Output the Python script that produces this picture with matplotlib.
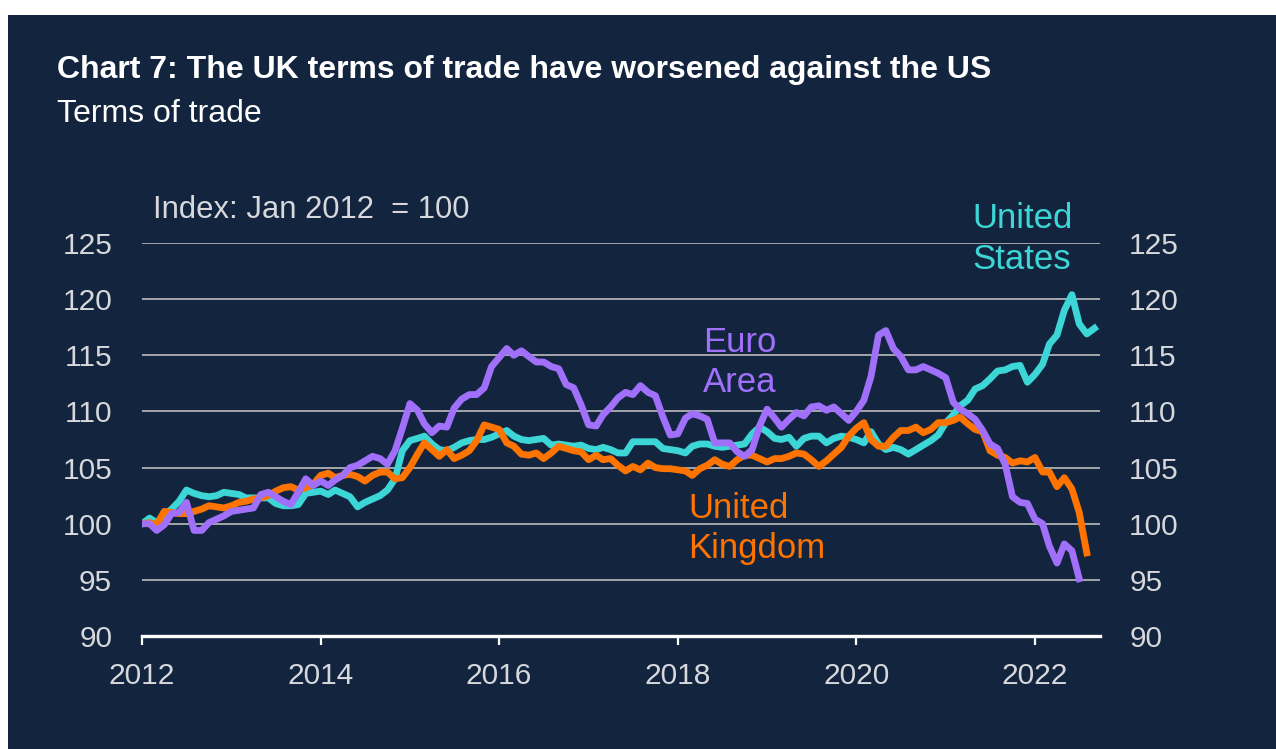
import numpy as np
import pandas as pd
import matplotlib
matplotlib.use("Agg")
import matplotlib.pyplot as plt
import matplotlib.dates as mdates
from matplotlib.patches import Rectangle

plt.rcParams['font.family'] = ['Liberation Sans', 'DejaVu Sans']

# Terms of trade, index Jan 2012 = 100, monthly from Jan 2012
us = [100.0, 100.5, 100.1, 100.8, 101.3, 102.0, 103.0, 102.7, 102.5, 102.4, 102.5, 102.8,
      102.7, 102.6, 102.3, 102.3, 102.3, 102.3, 101.8, 101.6, 101.6, 101.7, 102.7, 102.8,
      102.9, 102.6, 103.0, 102.7, 102.4, 101.5, 101.9, 102.2, 102.5, 103.0, 104.0, 106.5,
      107.4, 107.6, 107.8, 107.1, 106.6, 106.5, 106.8, 107.2, 107.4, 107.5, 107.5, 107.7,
      108.0, 108.3, 107.8, 107.5, 107.4, 107.5, 107.6, 107.0, 107.1, 107.0, 106.9, 107.0,
      106.7, 106.6, 106.8, 106.6, 106.3, 106.3, 107.3, 107.3, 107.3, 107.3, 106.7, 106.6,
      106.5, 106.3, 106.9, 107.1, 107.1, 106.9, 106.8, 106.9, 107.0, 107.1, 108.0, 108.6,
      108.2, 107.6, 107.5, 107.7, 106.9, 107.6, 107.8, 107.8, 107.2, 107.6, 107.8, 107.7,
      107.5, 107.2, 108.2, 107.1, 106.6, 106.8, 106.6, 106.2, 106.6, 107.0, 107.4, 107.9,
      109.0, 109.7, 110.5, 111.0, 112.0, 112.3, 112.9, 113.6, 113.7, 114.0, 114.1, 112.6,
      113.3, 114.2, 116.0, 116.8, 119.0, 120.4, 117.8, 116.9, 117.4]

uk = [100.0, 100.1, 99.9, 101.1, 101.0, 100.9, 100.9, 101.1, 101.3, 101.6, 101.5, 101.4,
      101.6, 101.9, 102.0, 102.2, 102.3, 102.5, 102.9, 103.2, 103.3, 103.0, 103.2, 103.5,
      104.3, 104.5, 104.1, 104.3, 104.4, 104.2, 103.8, 104.3, 104.6, 104.6, 104.0, 104.1,
      105.0, 106.2, 107.2, 106.6, 106.0, 106.6, 105.8, 106.1, 106.5, 107.4, 108.8, 108.6,
      108.4, 107.2, 106.9, 106.2, 106.1, 106.3, 105.8, 106.3, 106.9, 106.7, 106.5, 106.4,
      105.7, 106.1, 105.7, 105.8, 105.2, 104.7, 105.1, 104.8, 105.4, 105.0, 104.9, 104.9,
      104.8, 104.7, 104.3, 104.9, 105.2, 105.7, 105.3, 105.1, 105.7, 106.1, 106.1, 105.8,
      105.5, 105.8, 105.8, 106.0, 106.3, 106.2, 105.7, 105.1, 105.6, 106.2, 106.8, 107.8,
      108.5, 109.0, 107.5, 106.9, 106.9, 107.7, 108.3, 108.3, 108.6, 108.1, 108.4, 109.0,
      109.0, 109.2, 109.5, 108.9, 108.4, 108.2, 106.5, 106.1, 105.9, 105.4, 105.6, 105.5,
      105.9, 104.6, 104.6, 103.3, 104.1, 103.1, 101.0, 97.4]

ea = [100.0, 100.0, 99.4, 99.9, 100.9, 101.0, 101.9, 99.4, 99.4, 100.1, 100.4, 100.7,
      101.1, 101.2, 101.3, 101.4, 102.6, 102.8, 102.4, 102.0, 101.7, 102.8, 104.0, 103.4,
      103.8, 103.4, 103.9, 104.3, 105.0, 105.2, 105.6, 106.0, 105.8, 105.3, 106.5, 108.5,
      110.7, 110.1, 108.9, 108.1, 108.7, 108.6, 110.3, 111.1, 111.5, 111.5, 112.1, 114.0,
      114.8, 115.6, 115.0, 115.4, 114.9, 114.4, 114.4, 114.0, 113.8, 112.4, 112.1, 110.6,
      108.8, 108.7, 109.7, 110.4, 111.2, 111.7, 111.5, 112.3, 111.7, 111.4, 109.5, 107.9,
      108.0, 109.4, 109.8, 109.6, 109.3, 107.2, 107.2, 107.2, 106.4, 106.0, 106.6, 108.7,
      110.2, 109.4, 108.6, 109.3, 109.9, 109.6, 110.4, 110.5, 110.1, 110.4, 109.8, 109.2,
      110.0, 111.0, 113.1, 116.8, 117.2, 115.6, 114.9, 113.7, 113.7, 114.0, 113.7, 113.4,
      113.0, 110.8, 110.2, 109.8, 109.3, 108.3, 107.1, 106.7, 105.3, 102.4, 101.9, 101.8,
      100.4, 100.0, 98.0, 96.5, 98.2, 97.6, 95.1]

yticks = [90, 95, 100, 105, 110, 115, 120, 125]
xtick_years = [2012, 2014, 2016, 2018, 2020, 2022]

BG = '#13253e'
C_US = '#3dd6d6'
C_UK = '#ff7300'
C_EA = '#a070fb'
TXT = '#d6d8dc'
W, H = 1276, 749

months = pd.date_range('2012-01-01', periods=len(us), freq='MS')

fig = plt.figure(figsize=(W / 100, H / 100), dpi=100, facecolor='white')
fig.patches.append(Rectangle((8 / W, 0), 1 - 8 / W, 1 - 15 / H, transform=fig.transFigure,
                             facecolor=BG, edgecolor='none', zorder=-10))

ax = fig.add_axes([142 / W, 1 - 636 / H, (1100 - 142) / W, (636 - 243) / H])
ax.set_facecolor('none')

ax.plot(months[:len(us)], us, color=C_US, lw=4.9, solid_joinstyle='round', zorder=3)
ax.plot(months[:len(uk)], uk, color=C_UK, lw=4.9, solid_joinstyle='round', zorder=4)
ax.plot(months[:len(ea)], ea, color=C_EA, lw=4.9, solid_joinstyle='round', zorder=5)

ax.set_ylim(90, 125)
ax.set_xlim(pd.Timestamp('2012-01-01'), pd.Timestamp('2022-09-24'))
ax.set_yticks(yticks)
for v in yticks[1:]:
    ax.axhline(v, color='#a3a7ad', lw=1.4, zorder=1)

for s in ['top', 'right', 'left']:
    ax.spines[s].set_visible(False)
ax.spines['bottom'].set_color('white')
ax.spines['bottom'].set_linewidth(2.4)
ax.spines['bottom'].set_zorder(6)

ax.set_xticks([pd.Timestamp(f'{y}-01-01') for y in xtick_years])
ax.xaxis.set_major_formatter(mdates.DateFormatter('%Y'))
ax.tick_params(axis='x', colors='white', length=6.5, width=1.6, pad=12,
               labelsize=21.5, labelcolor=TXT)
ax.tick_params(axis='y', length=0, pad=21.5, labelsize=21.5, labelcolor=TXT)

ax2 = ax.twinx()
ax2.set_ylim(ax.get_ylim())
ax2.set_yticks(yticks)
for s in ['top', 'right', 'left', 'bottom']:
    ax2.spines[s].set_visible(False)
ax2.tick_params(axis='y', length=0, pad=21, labelsize=21.5, labelcolor=TXT)


def ftext(x, y, s, **kw):
    fig.text(x / W, 1 - y / H, s, va='baseline', **kw)


ftext(57, 78, 'Chart 7: The UK terms of trade have worsened against the US',
      color='white', fontsize=23, fontweight='bold')
ftext(57, 122, 'Terms of trade', color='white', fontsize=23)
ftext(153, 218, 'Index: Jan 2012  = 100', color=TXT, fontsize=22.3)

ftext(972, 228, 'United', color=C_US, fontsize=25)
ftext(972, 269, 'States', color=C_US, fontsize=25)
ftext(703, 352, 'Euro', color=C_EA, fontsize=25)
ftext(703, 392, 'Area', color=C_EA, fontsize=25)
ftext(688, 518, 'United', color=C_UK, fontsize=25)
ftext(688, 558, 'Kingdom', color=C_UK, fontsize=25)

fig.savefig('out.png', dpi=100, facecolor=fig.get_facecolor())
